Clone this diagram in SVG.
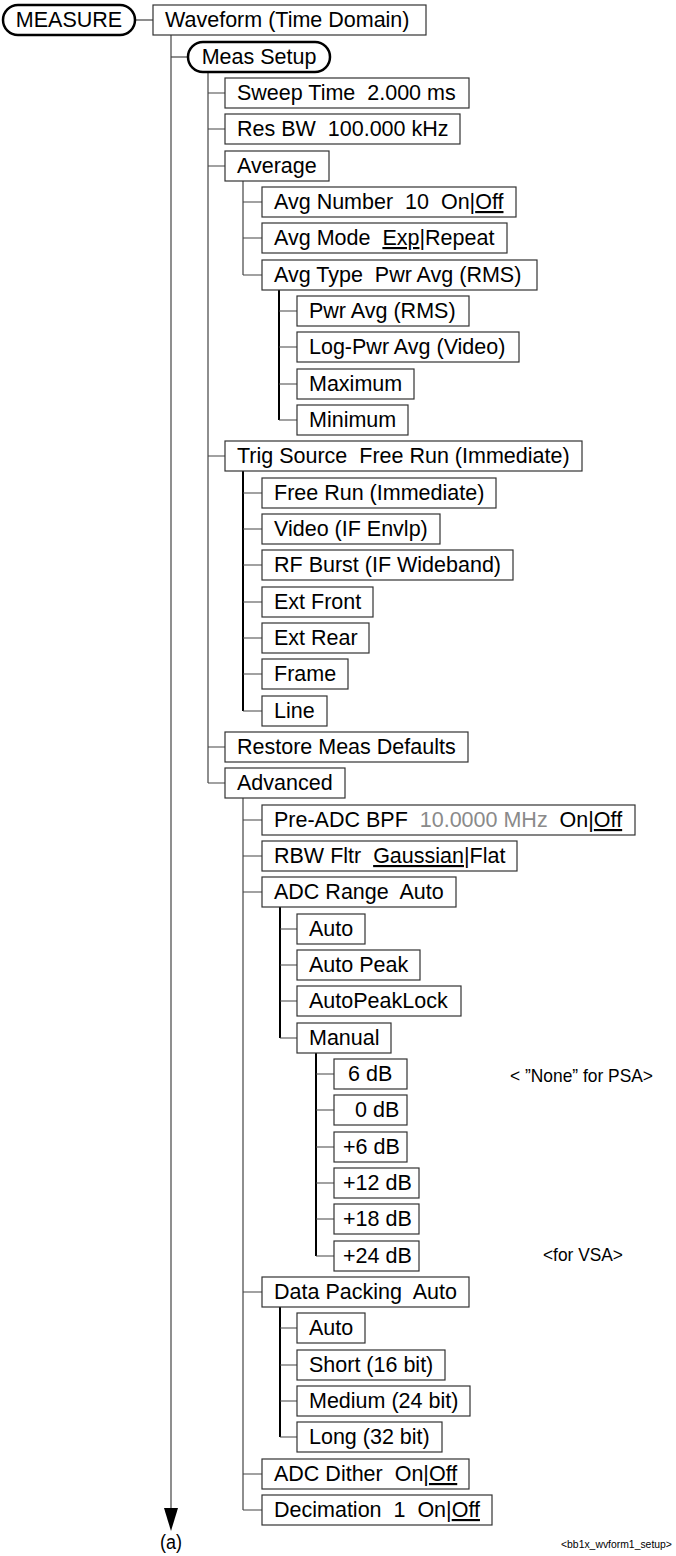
<svg xmlns="http://www.w3.org/2000/svg" width="676" height="1556" viewBox="0 0 676 1556">
<style>
.b{fill:#fff;stroke:#333;stroke-width:1.2}
.r{fill:#fff;stroke:#000;stroke-width:2.5}
.t{font-family:"Liberation Sans",Arial,sans-serif;font-size:21.5px;fill:#000}
.n{font-family:"Liberation Sans",Arial,sans-serif;fill:#000}
.c{stroke:#444;stroke-width:1.2;fill:none}
.k{stroke:#000;stroke-width:2;fill:none}
.u{text-decoration:underline}
.g{fill:#8a8a8a}
</style>
<g id="connectors">
<line class="c" x1="135" y1="20" x2="153" y2="20"/>
<line class="c" x1="171" y1="35" x2="171" y2="1510"/>
<polygon points="164,1508 178,1508 171,1531" fill="#000"/>
<line class="c" x1="171" y1="57" x2="188" y2="57"/>
<path class="c" d="M208 72V783M208 93H225M208 129H225M208 166H225M208 456H225M208 747H225M208 783H225"/>
<path class="c" d="M243 181V275M243 202H262M243 238H262M243 275H262"/>
<path class="k" d="M279 289V420"/>
<path class="c" d="M279 311H297M279 347H297M279 384H297M279 420H297"/>
<path class="k" d="M243 471V711"/>
<path class="c" d="M243 493H262M243 529H262M243 565H262M243 602H262M243 638H262M243 674H262M243 711H262"/>
<path class="c" d="M243 798V1510M243 820H262M243 856H262M243 892H262M243 1292H262M243 1474H262M243 1510H262"/>
<path class="k" d="M280 907V1038"/>
<path class="c" d="M280 929H297M280 965H297M280 1001H297M280 1038H297"/>
<path class="k" d="M316 1053V1256"/>
<path class="c" d="M316 1074H334M316 1110H334M316 1147H334M316 1183H334M316 1219H334M316 1256H334"/>
<path class="k" d="M280 1307V1437"/>
<path class="c" d="M280 1328H297M280 1365H297M280 1401H297M280 1437H297"/>
</g>
<g id="measure"><rect class="r" x="3" y="5" width="132" height="30" rx="15"/><text class="t" x="69" y="27" text-anchor="middle">MEASURE</text></g>
<g id="waveform"><rect class="b" x="153" y="5" width="273" height="30"/><text class="t" x="165" y="27">Waveform (Time Domain)</text></g>
<g id="meas-setup"><rect class="r" x="188" y="42" width="142" height="30" rx="15"/><text class="t" x="259" y="64" text-anchor="middle">Meas Setup</text></g>
<g id="sweep"><rect class="b" x="225" y="78" width="244" height="30"/><text class="t" x="237" y="100" xml:space="preserve">Sweep Time  2.000 ms</text></g>
<g id="resbw"><rect class="b" x="225" y="114" width="235" height="30"/><text class="t" x="237" y="136" xml:space="preserve">Res BW  100.000 kHz</text></g>
<g id="average"><rect class="b" x="225" y="151" width="104" height="30"/><text class="t" x="237" y="173">Average</text></g>
<g id="avgnum"><rect class="b" x="262" y="187" width="254" height="30"/><text class="t" x="274" y="209" xml:space="preserve">Avg Number  10  On|<tspan class="u">Off</tspan></text></g>
<g id="avgmode"><rect class="b" x="262" y="223" width="245" height="30"/><text class="t" x="274" y="245" xml:space="preserve">Avg Mode  <tspan class="u">Exp</tspan>|Repeat</text></g>
<g id="avgtype"><rect class="b" x="262" y="260" width="275" height="30"/><text class="t" x="274" y="282" xml:space="preserve">Avg Type  Pwr Avg (RMS)</text></g>
<g id="pwravg"><rect class="b" x="297" y="296" width="172" height="30"/><text class="t" x="309" y="318">Pwr Avg (RMS)</text></g>
<g id="logpwr"><rect class="b" x="297" y="332" width="222" height="30"/><text class="t" x="309" y="354">Log-Pwr Avg (Video)</text></g>
<g id="maximum"><rect class="b" x="297" y="369" width="117" height="30"/><text class="t" x="309" y="391">Maximum</text></g>
<g id="minimum"><rect class="b" x="297" y="405" width="111" height="30"/><text class="t" x="309" y="427">Minimum</text></g>
<g id="trigsource"><rect class="b" x="225" y="441" width="357" height="30"/><text class="t" x="237" y="463" xml:space="preserve">Trig Source  Free Run (Immediate)</text></g>
<g id="freerun"><rect class="b" x="262" y="478" width="234" height="30"/><text class="t" x="274" y="500">Free Run (Immediate)</text></g>
<g id="video"><rect class="b" x="262" y="514" width="178" height="30"/><text class="t" x="274" y="536">Video (IF Envlp)</text></g>
<g id="rfburst"><rect class="b" x="262" y="550" width="251" height="30"/><text class="t" x="274" y="572">RF Burst (IF Wideband)</text></g>
<g id="extfront"><rect class="b" x="262" y="587" width="111" height="30"/><text class="t" x="274" y="609">Ext Front</text></g>
<g id="extrear"><rect class="b" x="262" y="623" width="107" height="30"/><text class="t" x="274" y="645">Ext Rear</text></g>
<g id="frame"><rect class="b" x="262" y="659" width="86" height="30"/><text class="t" x="274" y="681">Frame</text></g>
<g id="line"><rect class="b" x="262" y="696" width="65" height="30"/><text class="t" x="274" y="718">Line</text></g>
<g id="restore"><rect class="b" x="225" y="732" width="243" height="30"/><text class="t" x="237" y="754">Restore Meas Defaults</text></g>
<g id="advanced"><rect class="b" x="225" y="768" width="120" height="30"/><text class="t" x="237" y="790">Advanced</text></g>
<g id="preadc"><rect class="b" x="262" y="805" width="373" height="30"/><text class="t" x="274" y="827" xml:space="preserve">Pre-ADC BPF  <tspan class="g">10.0000 MHz</tspan>  On|<tspan class="u">Off</tspan></text></g>
<g id="rbwfltr"><rect class="b" x="262" y="841" width="255" height="30"/><text class="t" x="274" y="863" xml:space="preserve">RBW Fltr  <tspan class="u">Gaussian</tspan>|Flat</text></g>
<g id="adcrange"><rect class="b" x="262" y="877" width="194" height="30"/><text class="t" x="274" y="899" xml:space="preserve">ADC Range  Auto</text></g>
<g id="adc-auto"><rect class="b" x="297" y="914" width="68" height="30"/><text class="t" x="309" y="936">Auto</text></g>
<g id="adc-autopeak"><rect class="b" x="297" y="950" width="123" height="30"/><text class="t" x="309" y="972">Auto Peak</text></g>
<g id="adc-autopeaklock"><rect class="b" x="297" y="986" width="164" height="30"/><text class="t" x="309" y="1008">AutoPeakLock</text></g>
<g id="adc-manual"><rect class="b" x="297" y="1023" width="94" height="30"/><text class="t" x="309" y="1045">Manual</text></g>
<g id="m-6db"><rect class="b" x="334" y="1059" width="73" height="30"/><text class="t" x="348" y="1081">6 dB</text></g>
<g id="m-0db"><rect class="b" x="334" y="1095" width="73" height="30"/><text class="t" x="355" y="1117">0 dB</text></g>
<g id="m-p6db"><rect class="b" x="334" y="1132" width="73" height="30"/><text class="t" x="343" y="1154">+6 dB</text></g>
<g id="m-p12db"><rect class="b" x="334" y="1168" width="85" height="30"/><text class="t" x="343" y="1190">+12 dB</text></g>
<g id="m-p18db"><rect class="b" x="334" y="1204" width="85" height="30"/><text class="t" x="343" y="1226">+18 dB</text></g>
<g id="m-p24db"><rect class="b" x="334" y="1241" width="85" height="30"/><text class="t" x="343" y="1263">+24 dB</text></g>
<g id="datapacking"><rect class="b" x="262" y="1277" width="207" height="30"/><text class="t" x="274" y="1299" xml:space="preserve">Data Packing  Auto</text></g>
<g id="dp-auto"><rect class="b" x="297" y="1313" width="68" height="30"/><text class="t" x="309" y="1335">Auto</text></g>
<g id="dp-short"><rect class="b" x="297" y="1350" width="148" height="30"/><text class="t" x="309" y="1372">Short (16 bit)</text></g>
<g id="dp-medium"><rect class="b" x="297" y="1386" width="173" height="30"/><text class="t" x="309" y="1408">Medium (24 bit)</text></g>
<g id="dp-long"><rect class="b" x="297" y="1422" width="145" height="30"/><text class="t" x="309" y="1444">Long (32 bit)</text></g>
<g id="adcdither"><rect class="b" x="262" y="1459" width="207" height="30"/><text class="t" x="274" y="1481" xml:space="preserve">ADC Dither  On|<tspan class="u">Off</tspan></text></g>
<g id="decimation"><rect class="b" x="262" y="1495" width="230" height="30"/><text class="t" x="274" y="1517" xml:space="preserve">Decimation  1  On|<tspan class="u">Off</tspan></text></g>
<g id="notes">
<text class="n" x="510" y="1082" font-size="19" textLength="143" lengthAdjust="spacingAndGlyphs">&lt; ”None” for PSA&gt;</text>
<text class="n" x="543" y="1261" font-size="19" textLength="80" lengthAdjust="spacingAndGlyphs">&lt;for VSA&gt;</text>
<text class="n" x="160" y="1549" font-size="20" textLength="22" lengthAdjust="spacingAndGlyphs">(a)</text>
<text class="n" x="561" y="1548" font-size="10.4">&lt;bb1x_wvform1_setup&gt;</text>
</g>
</svg>
